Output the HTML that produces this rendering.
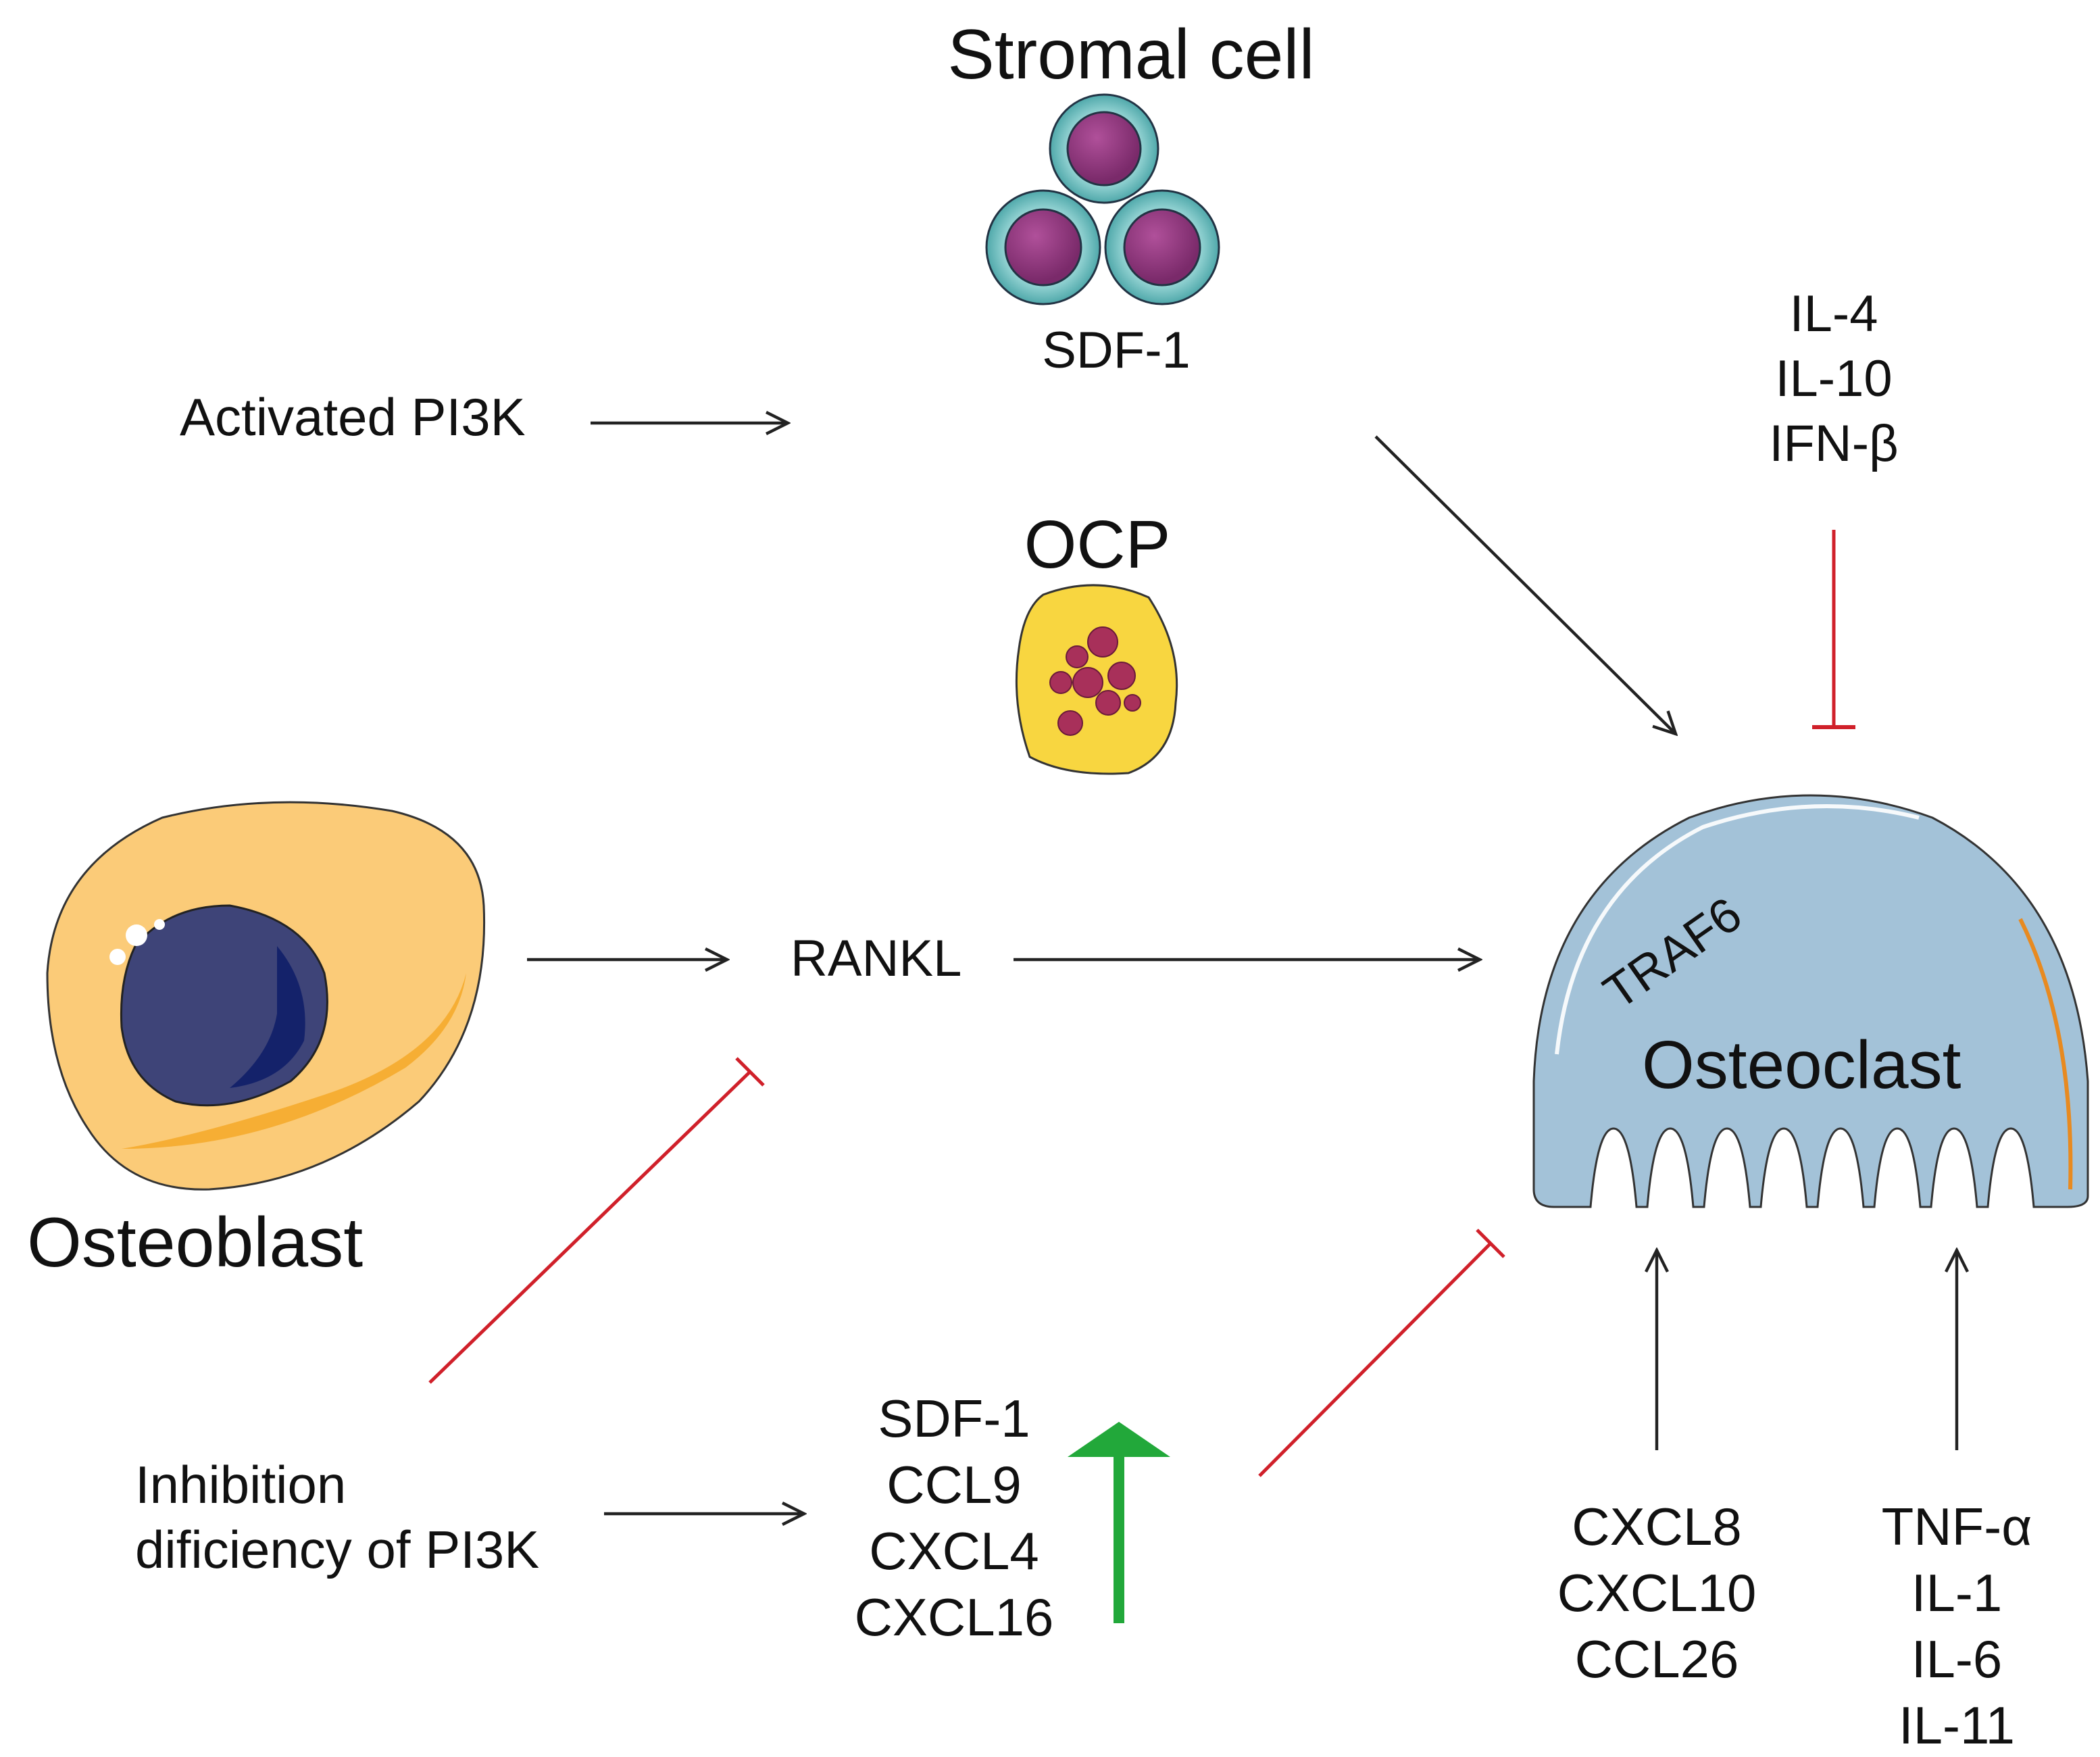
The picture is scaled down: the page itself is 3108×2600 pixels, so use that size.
<!DOCTYPE html>
<html><head><meta charset="utf-8"><style>
html,body{margin:0;padding:0;background:#fff}
svg{display:block}
text{font-family:"Liberation Sans",sans-serif;fill:#111}
</style></head><body>
<svg width="3108" height="2600" viewBox="0 0 1554 1300" xmlns="http://www.w3.org/2000/svg">
<defs>
<marker id="ah" viewBox="0 0 20 20" refX="18" refY="10" markerWidth="20" markerHeight="20" markerUnits="userSpaceOnUse" orient="auto">
<polyline points="2,2 18,10 2,18" fill="none" stroke="#222" stroke-width="2.2"/>
</marker>
<radialGradient id="sc" cx="0.5" cy="0.5" r="0.5"><stop offset="0.7" stop-color="#8fd0d0"/><stop offset="1" stop-color="#4fa8aa"/></radialGradient>
<radialGradient id="nu" cx="0.4" cy="0.35" r="0.6"><stop offset="0" stop-color="#b0509a"/><stop offset="1" stop-color="#7a2a6a"/></radialGradient>
</defs>

<text x="837" y="58" font-size="52" text-anchor="middle">Stromal cell</text>
<g stroke="#234" stroke-width="1.5">
<circle cx="817" cy="110" r="40" fill="url(#sc)"/>
<circle cx="817" cy="110" r="27" fill="url(#nu)"/>
<circle cx="772" cy="183" r="42" fill="url(#sc)"/>
<circle cx="772" cy="183" r="28" fill="url(#nu)"/>
<circle cx="860" cy="183" r="42" fill="url(#sc)"/>
<circle cx="860" cy="183" r="28" fill="url(#nu)"/>
</g>
<text x="826" y="272" font-size="38" text-anchor="middle">SDF-1</text>

<text x="133" y="322" font-size="39">Activated PI3K</text>
<line x1="437" y1="313" x2="583" y2="313" stroke="#222" stroke-width="2.2" marker-end="url(#ah)"/>

<text x="1357" y="245" font-size="38" text-anchor="middle">IL-4</text>
<text x="1357" y="293" font-size="38" text-anchor="middle">IL-10</text>
<text x="1357" y="341" font-size="38" text-anchor="middle">IFN-β</text>
<line x1="1357" y1="392" x2="1357" y2="538" stroke="#d0202a" stroke-width="2.5"/>
<line x1="1341" y1="538" x2="1373" y2="538" stroke="#d0202a" stroke-width="3"/>

<line x1="1018" y1="323" x2="1240" y2="543" stroke="#222" stroke-width="2.2" marker-end="url(#ah)"/>

<text x="812" y="420" font-size="50" text-anchor="middle">OCP</text>
<path d="M772,440 Q812,425 850,442 Q875,480 870,520 Q868,560 835,572 Q790,575 762,560 Q748,520 754,480 Q758,450 772,440Z" fill="#f8d640" stroke="#333" stroke-width="1.5"/>
<g fill="#a8305a" stroke="#6a1a3a" stroke-width="1">
<circle cx="816" cy="475" r="11"/><circle cx="797" cy="486" r="8"/><circle cx="830" cy="500" r="10"/>
<circle cx="805" cy="505" r="11"/><circle cx="785" cy="505" r="8"/><circle cx="820" cy="520" r="9"/>
<circle cx="792" cy="535" r="9"/><circle cx="838" cy="520" r="6"/>
</g>

<path d="M120,605 Q200,585 290,600 Q355,615 358,670 Q362,760 310,815 Q240,875 155,880 Q95,882 65,835 Q35,790 35,720 Q40,640 120,605Z" fill="#fbcb78" stroke="#333" stroke-width="1.5"/>
<path d="M90,850 Q200,850 300,790 Q340,760 345,720 Q330,780 240,810 Q150,840 90,850Z" fill="#f5a623" opacity="0.8"/>
<path d="M100,700 Q125,670 170,670 Q225,680 240,720 Q250,770 215,800 Q170,825 130,815 Q95,800 90,760 Q88,725 100,700Z" fill="#3e4478" stroke="#222" stroke-width="1.5"/>
<path d="M205,700 Q230,730 225,770 Q210,800 170,805 Q200,780 205,750Z" fill="#14226a"/>
<circle cx="101" cy="692" r="8" fill="#fff"/><circle cx="87" cy="708" r="6" fill="#fff"/><circle cx="118" cy="684" r="4" fill="#fff"/>
<text x="20" y="937" font-size="52">Osteoblast</text>

<line x1="390" y1="710" x2="538" y2="710" stroke="#222" stroke-width="2.2" marker-end="url(#ah)"/>
<text x="585" y="722" font-size="38">RANKL</text>
<line x1="750" y1="710" x2="1095" y2="710" stroke="#222" stroke-width="2.2" marker-end="url(#ah)"/>

<path d="M1135,880 L1135,800 Q1140,660 1250,605 Q1340,572 1430,605 Q1535,660 1545,800 L1545,885 Q1545,893 1530,893 L1505,893 Q1500,835 1488,835 Q1476,835 1471,893 L1463,893 Q1458,835 1446,835 Q1434,835 1429,893 L1421,893 Q1416,835 1404,835 Q1392,835 1387,893 L1379,893 Q1374,835 1362,835 Q1350,835 1345,893 L1337,893 Q1332,835 1320,835 Q1308,835 1303,893 L1295,893 Q1290,835 1278,835 Q1266,835 1261,893 L1253,893 Q1248,835 1236,835 Q1224,835 1219,893 L1211,893 Q1206,835 1194,835 Q1182,835 1177,893 L1150,893 Q1135,893 1135,880Z" fill="#a3c2d8" stroke="#333" stroke-width="1.5"/>
<path d="M1152,780 Q1165,660 1260,612 Q1340,585 1420,605" fill="none" stroke="#fff" stroke-width="3" opacity="0.9"/>
<path d="M1495,680 Q1535,760 1532,880" fill="none" stroke="#e88a20" stroke-width="3"/>
<text x="0" y="0" font-size="36" transform="translate(1198,748) rotate(-35)">TRAF6</text>
<text x="1215" y="805" font-size="50">Osteoclast</text>

<line x1="318" y1="1023" x2="555" y2="793" stroke="#d0202a" stroke-width="2.5"/>
<line x1="545" y1="783" x2="565" y2="803" stroke="#d0202a" stroke-width="2.5"/>
<line x1="932" y1="1092" x2="1103" y2="920" stroke="#d0202a" stroke-width="2.5"/>
<line x1="1093" y1="910" x2="1113" y2="930" stroke="#d0202a" stroke-width="2.5"/>

<text x="100" y="1112" font-size="39">Inhibition</text>
<text x="100" y="1160" font-size="39">dificiency of PI3K</text>
<line x1="447" y1="1120" x2="595" y2="1120" stroke="#222" stroke-width="2.2" marker-end="url(#ah)"/>

<text x="706" y="1063" font-size="39" text-anchor="middle">SDF-1</text>
<text x="706" y="1112" font-size="39" text-anchor="middle">CCL9</text>
<text x="706" y="1161" font-size="39" text-anchor="middle">CXCL4</text>
<text x="706" y="1210" font-size="39" text-anchor="middle">CXCL16</text>

<rect x="824" y="1075" width="8" height="126" fill="#22a83a"/>
<polygon points="790,1078 866,1078 828,1052" fill="#22a83a"/>

<line x1="1226" y1="1073" x2="1226" y2="925" stroke="#222" stroke-width="2.2" marker-end="url(#ah)"/>
<text x="1226" y="1143" font-size="39" text-anchor="middle">CXCL8</text>
<text x="1226" y="1192" font-size="39" text-anchor="middle">CXCL10</text>
<text x="1226" y="1241" font-size="39" text-anchor="middle">CCL26</text>

<line x1="1448" y1="1073" x2="1448" y2="925" stroke="#222" stroke-width="2.2" marker-end="url(#ah)"/>
<text x="1448" y="1143" font-size="39" text-anchor="middle">TNF-α</text>
<text x="1448" y="1192" font-size="39" text-anchor="middle">IL-1</text>
<text x="1448" y="1241" font-size="39" text-anchor="middle">IL-6</text>
<text x="1448" y="1290" font-size="39" text-anchor="middle">IL-11</text>
</svg>
</body></html>
